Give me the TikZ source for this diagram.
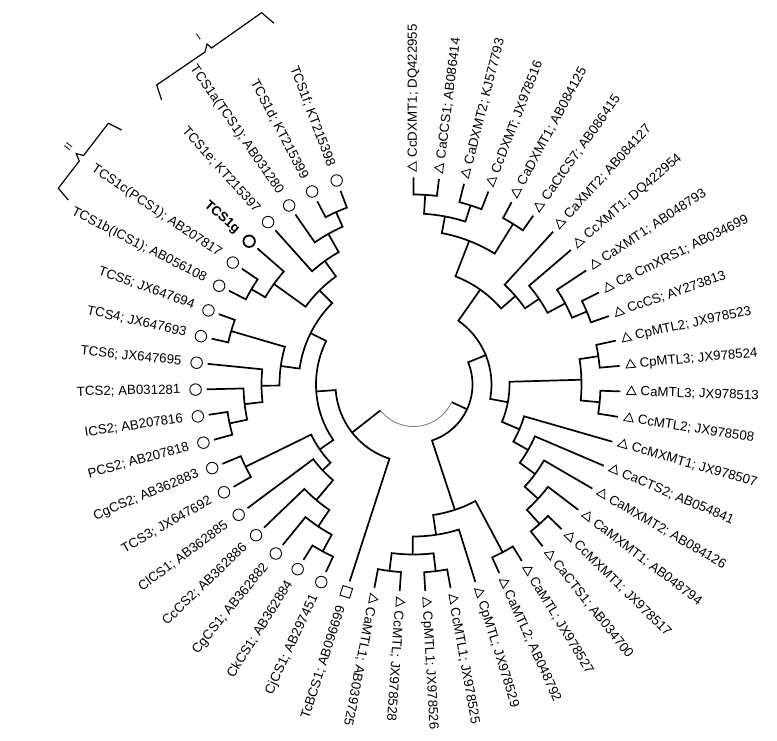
\documentclass[tikz,border=0pt]{standalone}
\usepackage{fontspec}
\setmainfont{Liberation Sans}
\newfontfamily\romanfont{Liberation Serif}
\usetikzlibrary{shapes.geometric}

\newcommand{\clade}[5]{\draw[branch] (#1) -- (#2:#4pt) arc[start angle=#2, end angle=#3, radius=#4pt] -- (#5);}

\tikzset{
  branch/.style={line width=1.7pt},
  rootarc/.style={line width=0.9pt, gray},
  lab/.style={font=\fontsize{13.3}{15}\selectfont, inner sep=0pt},
  tri/.style={draw, regular polygon, regular polygon sides=3, minimum size=11pt, inner sep=0pt, line width=0.8pt},
  circ/.style={draw, circle, minimum size=11.5pt, inner sep=0pt, line width=0.9pt},
  sqr/.style={draw, rectangle, minimum size=10pt, inner sep=0pt, line width=0.9pt},
  bracket/.style={line width=1.2pt},
  numeral/.style={font=\romanfont\fontsize{10}{12}\selectfont, inner sep=0pt},
}

\begin{document}
\begin{tikzpicture}[x=1pt, y=1pt]
    \useasboundingbox (-413.5,-356.5) rectangle (363.5,384.5);

    \foreach \i in {1,...,49}{
        \pgfmathsetmacro\a{90-(\i-1)*7.07}
        \coordinate (t\i) at (\a:207pt);
    }

    \coordinate (A12) at (86.47:190pt);
    \coordinate (A34) at (72.33:188pt);
    \coordinate (A1234) at (79.40:171pt);
    \coordinate (A56) at (58.19:189pt);
    \coordinate (A123456) at (68.79:154pt);
    \coordinate (E) at (22.84:188pt);
    \coordinate (D) at (28.14:172pt);
    \coordinate (C) at (34.32:152pt);
    \coordinate (B) at (40.95:135pt);
    \coordinate (R1a) at (54.87:116pt);
    \coordinate (F1) at (8.70:187pt);
    \coordinate (F2) at (-5.45:187pt);
    \coordinate (F) at (1.63:168pt);
    \coordinate (G5) at (-47.87:188pt);
    \coordinate (G4) at (-42.56:169pt);
    \coordinate (G3) at (-36.38:151pt);
    \coordinate (G2) at (-29.75:132pt);
    \coordinate (G1) at (-22.90:115pt);
    \coordinate (R1b) at (-10.64:96pt);
    \coordinate (R1) at (22.12:78pt);
    \coordinate (H) at (-62.01:190pt);
    \coordinate (K2) at (-83.22:188pt);
    \coordinate (K1) at (-97.36:188pt);
    \coordinate (K) at (-90.29:170pt);
    \coordinate (J) at (-81.45:152pt);
    \coordinate (R2) at (-71.73:132pt);
    \coordinate (R) at (-24.80:59pt);

    \coordinate (M4) at (241.44:190pt);
    \coordinate (M3) at (236.13:171pt);
    \coordinate (M2) at (229.95:151pt);
    \coordinate (M) at (223.32:125pt);
    \coordinate (N3536) at (206.09:187pt);
    \coordinate (L2b) at (214.70:114pt);
    \coordinate (N3738) at (191.95:188pt);
    \coordinate (Q2) at (186.64:170pt);
    \coordinate (Q) at (180.46:152pt);
    \coordinate (N4142) at (163.67:190pt);
    \coordinate (P) at (172.06:134pt);
    \coordinate (N4344) at (149.53:188pt);
    \coordinate (T1) at (144.22:172pt);
    \coordinate (N4849) at (114.18:189pt);
    \coordinate (U) at (119.48:173pt);
    \coordinate (V) at (125.66:152pt);
    \coordinate (W) at (134.94:133pt);
    \coordinate (L2a) at (153.50:115pt);
    \coordinate (L2) at (184.10:97.5pt);
    \coordinate (L) at (218.07:78pt);

    % triangle clade
    \clade{t1}{90}{82.93}{190}{t2}
    \clade{t3}{75.86}{68.79}{188}{t4}
    \clade{A12}{86.47}{72.33}{171}{A34}
    \clade{t5}{61.72}{54.65}{189}{t6}
    \clade{A1234}{79.40}{58.19}{154}{A56}
    \clade{t10}{26.37}{19.30}{188}{t11}
    \clade{t9}{33.44}{22.84}{172}{E}
    \clade{t8}{40.51}{28.14}{152}{D}
    \clade{t7}{47.58}{34.32}{135}{C}
    \clade{A123456}{68.79}{40.95}{116}{B}
    \clade{t12}{12.23}{5.16}{187}{t13}
    \clade{t14}{-1.91}{-8.98}{187}{t15}
    \clade{F1}{8.70}{-5.45}{168}{F2}
    \clade{t20}{-44.33}{-51.40}{188}{t21}
    \clade{t19}{-37.26}{-47.87}{169}{G5}
    \clade{t18}{-30.19}{-42.56}{151}{G4}
    \clade{t17}{-23.12}{-36.38}{132}{G3}
    \clade{t16}{-16.05}{-29.75}{115}{G2}
    \clade{F}{1.63}{-22.90}{96}{G1}
    \clade{R1a}{54.87}{-10.64}{78}{R1b}
    \clade{t22}{-58.47}{-65.54}{190}{t23}
    \clade{t25}{-79.68}{-86.75}{188}{t26}
    \clade{t27}{-93.82}{-100.89}{188}{t28}
    \clade{K2}{-83.22}{-97.36}{170}{K1}
    \clade{t24}{-72.61}{-90.29}{152}{K}
    \clade{H}{-62.01}{-81.45}{132}{J}
    \clade{R1}{22.12}{-71.73}{59}{R2}

    % circle clade
    \clade{t30}{244.97}{237.90}{190}{t31}
    \clade{t32}{230.83}{241.44}{171}{M4}
    \clade{t33}{223.76}{236.13}{151}{M3}
    \clade{t34}{216.69}{229.95}{125}{M2}
    \clade{t35}{209.62}{202.55}{187}{t36}
    \clade{N3536}{206.09}{223.32}{114}{M}
    \clade{t37}{195.48}{188.41}{188}{t38}
    \clade{t39}{181.34}{191.95}{170}{N3738}
    \clade{t40}{174.27}{186.64}{152}{Q2}
    \clade{t41}{167.20}{160.13}{190}{t42}
    \clade{N4142}{163.67}{180.46}{134}{Q}
    \clade{t43}{153.06}{145.99}{188}{t44}
    \clade{t45}{138.92}{149.53}{172}{N4344}
    \clade{t48}{117.71}{110.64}{189}{t49}
    \clade{t47}{124.78}{114.18}{173}{N4849}
    \clade{t46}{131.85}{119.48}{152}{U}
    \clade{T1}{144.22}{125.66}{133}{V}
    \clade{W}{134.94}{172.06}{115}{P}
    \clade{L2a}{153.50}{214.70}{97.5}{L2b}
    \clade{L2}{184.10}{252.04}{78}{t29}

    % root
    \draw[branch] (L) -- (218.07:42pt);
    \draw[branch] (R) -- (335.20:42pt);
    \draw[rootarc] (218.07:42pt) arc[start angle=218.07, end angle=335.20, radius=42pt];

    \foreach \i/\txt in {1/{CcDXMT1; DQ422955},2/{CaCCS1; AB086414},3/{CaDXMT2; KJ577793},
        4/{CcDXMT; JX978516},5/{CaDXMT1; AB084125},6/{CaCtCS7; AB086415},
        7/{CaXMT2; AB084127},8/{CcXMT1; DQ422954},9/{CaXMT1; AB048793},
        10/{Ca CmXRS1; AB034699},11/{CcCS; AY273813},12/{CpMTL2; JX978523},
        13/{CpMTL3; JX978524},14/{CaMTL3; JX978513},15/{CcMTL2; JX978508},
        16/{CcMXMT1; JX978507},17/{CaCTS2; AB054841},18/{CaMXMT2; AB084126},
        19/{CaMXMT1; AB048794},20/{CcMXMT1; JX978517},21/{CaCTS1; AB034700},
        22/{CaMTL; JX978527},23/{CaMTL2; AB048792},24/{CpMTL; JX978529},
        25/{CcMTL1; JX978525},26/{CpMTL1; JX978526},27/{CcMTL; JX978528},
        28/{CaMTL1; AB039725}}{
        \pgfmathsetmacro\a{90-(\i-1)*7.07}
        \node[tri, rotate=\a] (m\i) at (\a:218pt) {};
        \node[lab, rotate=\a, anchor=west] (l\i) at (\a:227pt) {\txt};
    }

    \foreach \i/\txt in {30/{CjCS1; AB297451},31/{CkCS1; AB362884},32/{CgCS1; AB362882},
        33/{CcCS2; AB362886},34/{ClCS1; AB362885},35/{TCS3; JX647692},
        36/{CgCS2; AB362883},37/{PCS2; AB207818},38/{ICS2; AB207816},
        39/{TCS2; AB031281},40/{TCS6; JX647695},41/{TCS4; JX647693},
        42/{TCS5; JX647694},43/{TCS1b(ICS1); AB056108},44/{TCS1c(PCS1); AB207817},
        46/{TCS1e; KT215397},47/{TCS1a(TCS1); AB031280},48/{TCS1d; KT215399},
        49/{TCS1f; KT215398}}{
        \pgfmathsetmacro\a{90-(\i-1)*7.07}
        \pgfmathsetmacro\b{\a+180}
        \node[circ] (m\i) at (\a:218pt) {};
        \node[lab, rotate=\b, anchor=east] (l\i) at (\a:233pt) {\txt};
    }

    \node[sqr, rotate=72.04] (m29) at (-107.96:218pt) {};
    \node[lab, rotate=72.04, anchor=east] (l29) at (-107.96:233pt) {TcBCS1; AB096699};
    \node[circ, line width=1.8pt] (m45) at (-221.08:218pt) {};
    \node[lab, rotate=-41.08, anchor=east] (l45) at (-221.08:233pt) {\bfseries TCS1g};

    % brackets
    \draw[bracket] (-251.8,284.5) -- (-256.8,299.5) -- (-208.5,332.5) -- (-206.5,340.5)
        -- (-202,336.5) -- (-151.8,371.8) -- (-139.5,361.2);
    \node[numeral, rotate=35] (one) at (-215.2,347.8) {I};
    \draw[bracket] (-345.2,184.5) -- (-355.2,196.2) -- (-334.2,223.5) -- (-337.3,230.9)
        -- (-329.9,229.0) -- (-305.2,261.2) -- (-291.8,254.5);
    \node[numeral, rotate=52] (two) at (-345.2,237.8) {II};
\end{tikzpicture}
\end{document}
